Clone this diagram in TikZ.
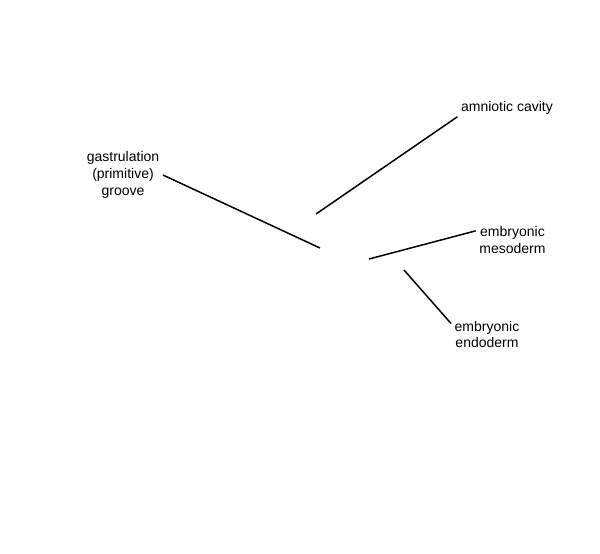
\documentclass[tikz,border=0pt]{standalone}
\usepackage{fontspec}
\setmainfont{Liberation Sans}
\begin{document}
\begin{tikzpicture}[x=1pt,y=-1pt,
    lbl/.style={align=center,inner sep=3.5pt,font=\fontsize{14}{16.7}\selectfont},
    pointer/.style={line width=1.5pt}]
    \useasboundingbox (0,0) rectangle (600,554);
    \node[lbl] (groove) at (123,175) {gastrulation\\(primitive)\\groove};
    \node[lbl] (amnio) at (507,108) {amniotic cavity};
    \node[lbl] (meso) at (512.5,240) {embryonic\\mesoderm};
    \node[lbl] (endo) at (487,334.5) {embryonic\\endoderm};
    \coordinate (grooveTip) at (320,248);
    \coordinate (amnioTip) at (316,214);
    \coordinate (mesoTip) at (369,259);
    \coordinate (endoTip) at (404,270);
    \draw[pointer] (groove.east) -- (grooveTip);
    \draw[pointer] (amnio.190) -- (amnioTip);
    \draw[pointer] (meso.166) -- (mesoTip);
    \draw[pointer] (endo.163) -- (endoTip);
  \end{tikzpicture}
\end{document}
